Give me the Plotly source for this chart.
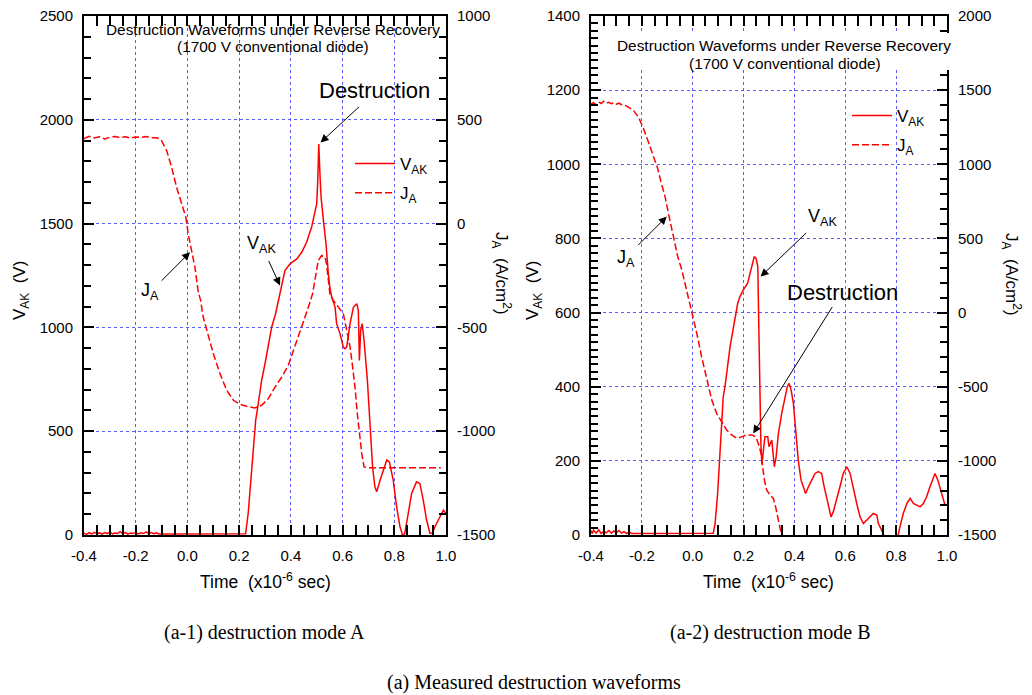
import plotly.graph_objects as go

W, H = 1032, 695

# ---------------- data: (a-1) destruction mode A ----------------
a1_v_t = [-0.40, -0.39, -0.38, -0.37, -0.36, -0.35, -0.34, -0.33, -0.32, -0.31, -0.30, -0.29, -0.28, -0.27,
          -0.26, -0.25, -0.24, -0.23, -0.22, -0.21, -0.20, -0.19, -0.18, -0.17, -0.16, -0.15, -0.14, -0.13,
          -0.12, -0.11, -0.10, 0.225, 0.235, 0.245, 0.254, 0.264, 0.272, 0.287, 0.300, 0.313, 0.326, 0.341,
          0.358, 0.367, 0.377, 0.397, 0.423, 0.442, 0.461, 0.480, 0.493, 0.500, 0.504, 0.508, 0.513, 0.517,
          0.526, 0.536, 0.545, 0.551, 0.558, 0.571, 0.577, 0.590, 0.603, 0.609, 0.616, 0.629, 0.642, 0.655,
          0.661, 0.665, 0.670, 0.676, 0.683, 0.696, 0.706, 0.716, 0.725, 0.732, 0.745, 0.758, 0.771, 0.781,
          0.796, 0.809, 0.822, 0.832, 0.840, 0.854, 0.867, 0.886, 0.899, 0.912, 0.925, 0.938, 0.948, 0.957,
          0.977, 0.990, 1.000]
a1_v = [9, 3, 11, 5, 13, 6, 10, 4, 12, 7, 14, 5, 9, 7,
        16, 6, 12, 4, 10, 7, 13, 5, 11, 7, 15, 6, 12, 6,
        10, 5, 5, 6, 104, 264, 425, 553, 617, 745, 825, 905, 1002, 1066,
        1170, 1226, 1274, 1306, 1330, 1362, 1410, 1482, 1546, 1595, 1707, 1883, 1723, 1626,
        1514, 1402, 1258, 1190, 1146, 1098, 1018, 970, 905, 897, 905, 1018, 1098, 1114,
        1082, 841, 986, 1018, 938, 745, 537, 328, 232, 208, 264, 313, 361, 352,
        264, 136, 40, 0, 5, 104, 200, 256, 248, 168, 72, 8, 10, 40,
        88, 120, 104]

a1_j_t = [-0.40, -0.38, -0.36, -0.34, -0.32, -0.30, -0.28, -0.26, -0.24, -0.22, -0.20, -0.18, -0.16, -0.14,
          -0.12, -0.11, -0.100, -0.080, -0.061, -0.042, -0.022, -0.006, 0.003, 0.016, 0.029, 0.042, 0.051,
          0.061, 0.081, 0.100, 0.126, 0.152, 0.178, 0.203, 0.229, 0.261, 0.287, 0.313, 0.339, 0.365, 0.390,
          0.410, 0.429, 0.448, 0.468, 0.484, 0.497, 0.506, 0.519, 0.532, 0.538, 0.545, 0.551, 0.564, 0.583,
          0.603, 0.616, 0.629, 0.639, 0.648, 0.657, 0.665, 0.674, 0.683, 0.700, 0.980]
a1_j = [410, 420, 412, 418, 408, 416, 420, 414, 418, 412, 417, 415, 419, 414,
        413, 410, 399, 351, 271, 175, 95, 30, -50, -130, -210, -330, -370,
        -450, -547, -626, -723, -803, -851, -870, -880, -888, -875, -843, -787, -739, -683,
        -611, -547, -482, -402, -338, -250, -178, -154, -162, -194, -274, -338, -370, -402,
        -434, -514, -595, -691, -787, -915, -1011, -1107, -1172, -1176, -1176]

# ---------------- data: (a-2) destruction mode B ----------------
a2_v_t = [-0.400, -0.395, -0.39, -0.38, -0.37, -0.36, -0.35, -0.34, -0.33, -0.32, -0.31, -0.30, -0.29,
          -0.28, -0.27, -0.26, -0.25, -0.24, 0.081, 0.088, 0.098, 0.107, 0.114, 0.120, 0.127, 0.136, 0.147,
          0.156, 0.166, 0.177, 0.186, 0.199, 0.216, 0.225, 0.236, 0.242, 0.249, 0.256, 0.259, 0.263, 0.268,
          0.272, 0.280, 0.284, 0.295, 0.300, 0.311, 0.317, 0.321, 0.328, 0.337, 0.350, 0.363, 0.372, 0.379,
          0.387, 0.396, 0.405, 0.415, 0.426, 0.435, 0.444, 0.455, 0.468, 0.481, 0.494, 0.507, 0.517, 0.531,
          0.544, 0.553, 0.566, 0.579, 0.592, 0.606, 0.619, 0.632, 0.645, 0.658, 0.671, 0.684, 0.697, 0.710,
          0.724, 0.730, 0.743, 0.752, 0.770, 0.790, 0.808, 0.815, 0.828, 0.842, 0.855, 0.868, 0.881, 0.894,
          0.907, 0.920, 0.933, 0.946, 0.953, 0.964, 0.976, 0.992]
a2_v = [12, 4, 13, 5, 14, 4, 10, 6, 12, 5, 11, 6, 12,
        5, 9, 4, 8, 4, 5, 31, 112, 211, 292, 373, 400, 454, 508,
        544, 589, 625, 643, 661, 679, 706, 733, 751, 746, 724, 600, 400, 250,
        190, 238, 265, 265, 238, 256, 202, 184, 211, 274, 328, 373, 400, 409,
        391, 355, 292, 202, 148, 130, 112, 130, 148, 166, 171, 166, 130, 85,
        49, 63, 94, 130, 166, 184, 166, 121, 85, 49, 31, 40, 49, 58,
        54, 31, 13, 0, -30, -30, 0, 22, 58, 85, 99, 85, 81, 76,
        85, 103, 130, 157, 166, 148, 121, 81]

a2_j_t = [-0.40, -0.39, -0.38, -0.37, -0.36, -0.35, -0.34, -0.33, -0.32, -0.31, -0.30, -0.29, -0.28, -0.27,
          -0.26, -0.253, -0.234, -0.214, -0.194, -0.175, -0.155, -0.138, -0.125, -0.109, -0.093, -0.076,
          -0.059, -0.043, -0.037, -0.017, -0.001, 0.016, 0.035, 0.055, 0.075, 0.094, 0.114, 0.134, 0.153,
          0.173, 0.193, 0.212, 0.232, 0.248, 0.258, 0.269, 0.275, 0.282, 0.291, 0.304, 0.317, 0.326, 0.337,
          0.347, 0.355]
a2_j = [1405, 1415, 1402, 1420, 1410, 1425, 1412, 1418, 1408, 1415, 1405, 1412, 1402, 1400,
        1392, 1385, 1365, 1320, 1243, 1153, 1063, 973, 883, 783, 648, 513,
        378, 288, 243, 108, -5, -140, -298, -455, -590, -680, -735, -793, -825,
        -848, -838, -825, -825, -838, -883, -950, -1040, -1130, -1198, -1230, -1253, -1310, -1400,
        -1488, -1550]

# ---------------- tick labels ----------------
x_tickvals = [-0.4, -0.2, 0.0, 0.2, 0.4, 0.6, 0.8, 1.0]
x_ticktext = ["-0.4", "-0.2", "0.0", "0.2", "0.4", "0.6", "0.8", "1.0"]
ja1_tickvals = [-1500, -1000, -500, 0, 500, 1000]
ja1_ticktext = ["-1500", "-1000", "-500", "0", "500", "1000"]
ja2_tickvals = [-1500, -1000, -500, 0, 500, 1000, 1500, 2000]
ja2_ticktext = ["-1500", "-1000", "-500", "0", "500", "1000", "1500", "2000"]

RED = "#ff0000"
GRID = "#5a5aff"
FONT = "Arial, Liberation Sans, sans-serif"
SERIF = "Times New Roman, Liberation Serif, serif"
MAJ_LEN, MIN_LEN, TW = 10, 7, 1.8


def px_x(p):
    return p / W


def px_y(p):
    return 1 - p / H


def minor(d):
    return dict(tickmode="linear", dtick=d, tick0=0, ticks="inside", ticklen=MIN_LEN, tickwidth=TW,
                tickcolor="black", showgrid=False)


fig = go.Figure()
fig.add_trace(go.Scatter(x=a1_v_t, y=a1_v, xaxis="x", yaxis="y", mode="lines", name="V<sub>AK</sub>",
                         line=dict(color=RED, width=1.5), legend="legend", legendgroup="v1"))
fig.add_trace(go.Scatter(x=a1_j_t, y=a1_j, xaxis="x", yaxis="y2", mode="lines", name="J<sub>A</sub>",
                         line=dict(color=RED, width=1.5, dash="7px,3px"), legend="legend", legendgroup="j1"))
fig.add_trace(go.Scatter(x=a2_v_t, y=a2_v, xaxis="x2", yaxis="y3", mode="lines", name="V<sub>AK</sub>",
                         line=dict(color=RED, width=1.5), legend="legend2", legendgroup="v2"))
fig.add_trace(go.Scatter(x=a2_j_t, y=a2_j, xaxis="x2", yaxis="y4", mode="lines", name="J<sub>A</sub>",
                         line=dict(color=RED, width=1.5, dash="7px,3px"), legend="legend2", legendgroup="j2"))

tickfont = dict(family=FONT, size=15, color="black")
common_x = dict(range=[-0.4, 1.0], tickvals=x_tickvals, ticktext=x_ticktext, ticks="inside", ticklen=MAJ_LEN,
                tickwidth=TW, tickcolor="black", mirror="allticks", showline=True, linecolor="black",
                linewidth=2, showgrid=True, gridcolor=GRID, griddash="dot", gridwidth=1, zeroline=False,
                tickfont=tickfont, ticklabelstandoff=6, automargin=False, minor=minor(0.05))
common_yl = dict(ticks="inside", ticklen=MAJ_LEN, tickwidth=TW, tickcolor="black", showline=True,
                 linecolor="black", linewidth=2, showgrid=True, gridcolor=GRID, griddash="dot", gridwidth=1,
                 zeroline=False, tickfont=tickfont, ticklabelstandoff=6, side="left", automargin=False)
common_yr = dict(ticks="inside", ticklen=MAJ_LEN, tickwidth=TW, tickcolor="black", showline=True,
                 linecolor="black", linewidth=2, showgrid=False, zeroline=False, tickfont=tickfont,
                 ticklabelstandoff=6, side="right", automargin=False)

ydom = [px_y(535), px_y(16)]
legend_common = dict(xanchor="left", yanchor="top", bgcolor="rgba(0,0,0,0)",
                     font=dict(family=FONT, size=17, color="black"), itemwidth=40, tracegroupgap=4)
fig.update_layout(
    width=W, height=H, margin=dict(l=0, r=0, t=0, b=0, pad=0, autoexpand=False),
    paper_bgcolor="white", plot_bgcolor="white",
    xaxis=dict(domain=[px_x(84), px_x(446)], anchor="y", **common_x),
    xaxis2=dict(domain=[px_x(591), px_x(947)], anchor="y3", **common_x),
    yaxis=dict(domain=ydom, anchor="x", range=[0, 2500], dtick=500, tick0=0, minor=minor(100), **common_yl),
    yaxis2=dict(overlaying="y", anchor="x", range=[-1500, 1000], tickvals=ja1_tickvals, ticktext=ja1_ticktext,
                minor=minor(100), **common_yr),
    yaxis3=dict(domain=ydom, anchor="x2", range=[0, 1400], dtick=200, tick0=0, minor=minor(20), **common_yl),
    yaxis4=dict(overlaying="y3", anchor="x2", range=[-1500, 2000], tickvals=ja2_tickvals, ticktext=ja2_ticktext,
                minor=minor(100), **common_yr),
    legend=dict(x=px_x(350), y=px_y(146), **legend_common),
    legend2=dict(x=px_x(847), y=px_y(98), **legend_common),
    showlegend=True,
)

# white boxes behind the in-plot titles
fig.add_shape(type="rect", xref="paper", yref="paper", x0=px_x(102), x1=px_x(440), y0=px_y(55), y1=px_y(27),
              fillcolor="white", line=dict(width=0), layer="between")
fig.add_shape(type="rect", xref="paper", yref="paper", x0=px_x(613), x1=px_x(953), y0=px_y(70), y1=px_y(33),
              fillcolor="white", line=dict(width=0), layer="above")

ann = []


def text(xp, yp, s, size, family=FONT, angle=0):
    ann.append(dict(xref="paper", yref="paper", x=px_x(xp), y=px_y(yp), text=s, showarrow=False,
                    font=dict(family=family, size=size, color="black"), textangle=angle,
                    xanchor="center", yanchor="middle"))


def arrow(xref, yref, x, y, ax, ay):
    ann.append(dict(xref=xref, yref=yref, x=x, y=y, ax=ax, ay=ay, axref="pixel", ayref="pixel", text="",
                    showarrow=True, arrowhead=2, arrowsize=1.6, arrowwidth=1, arrowcolor="black", standoff=0))


# in-plot titles
text(272.5, 30, "Destruction Waveforms under Reverse Recovery", 15.4)
text(272.5, 47, "(1700 V conventional diode)", 15.4)
text(784, 46, "Destruction Waveforms under Reverse Recovery", 15.4)
text(784.5, 63, "(1700 V conventional diode)", 15.4)

# axis titles
T_TIME = "Time\u00a0\u00a0(x10<sup>-6</sup> sec)"
T_V = "V<sub>AK</sub>\u00a0\u00a0(V)"
T_J = "J<sub>A</sub>\u00a0\u00a0(A/cm<sup>2</sup>)"
text(265, 581, T_TIME, 17.5)
text(768, 581, T_TIME, 17.5)
text(21, 291, T_V, 17, angle=-90)
text(534, 291, T_V, 17, angle=-90)
text(501, 273, T_J, 17, angle=90)
text(1012, 274, T_J, 17, angle=90)

# annotations with arrows, chart (a-1)
text(374.5, 91, "Destruction", 22)
arrow("x", "y", 0.515, 1891, 40, -37)
text(150, 291, "J<sub>A</sub>", 18)
arrow("x", "y", 0.010, 1362, -30, 30)
text(261, 244, "V<sub>AK</sub>", 18)
arrow("x", "y", 0.358, 1202, -12, -26)

# annotations with arrows, chart (a-2)
text(626, 258, "J<sub>A</sub>", 18)
arrow("x2", "y3", -0.102, 859, -30, 30)
text(822, 217, "V<sub>AK</sub>", 18)
arrow("x2", "y3", 0.267, 697, 47, -45)
text(842.5, 292, "Destruction", 22)
arrow("x2", "y3", 0.238, 274, 80, -128)

# captions
text(264.5, 632, "(a-1) destruction mode A", 20, family=SERIF)
text(770.5, 632, "(a-2) destruction mode B", 20, family=SERIF)
text(534, 682, "(a) Measured destruction waveforms", 20, family=SERIF)

fig.update_layout(annotations=ann)
fig.write_html("out.html")
